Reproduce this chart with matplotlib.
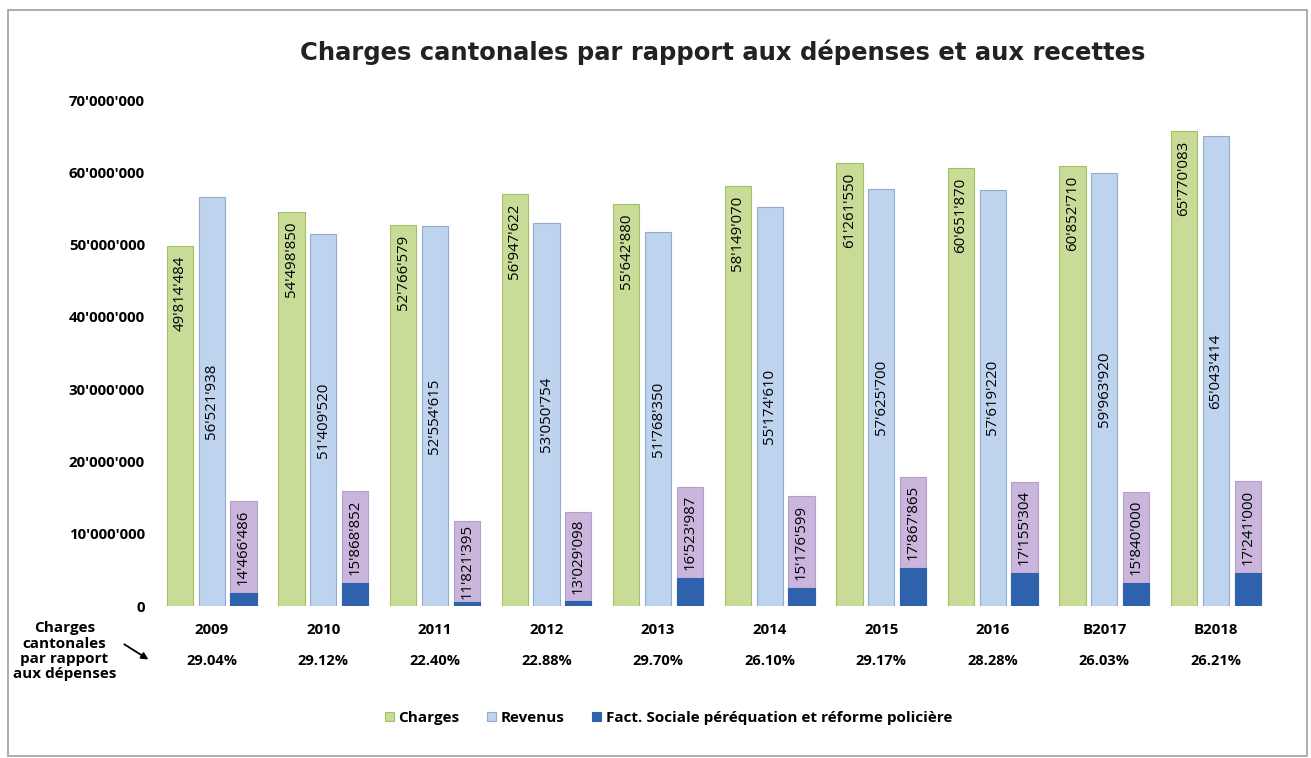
import matplotlib
matplotlib.use("Agg")
from matplotlib import pyplot as plt
from matplotlib.patches import Rectangle
from matplotlib.ticker import FuncFormatter
import numpy as np

years = ["2009", "2010", "2011", "2012", "2013", "2014", "2015", "2016", "B2017", "B2018"]
charges = [49814484, 54498850, 52766579, 56947622, 55642880, 58149070, 61261550, 60651870, 60852710, 65770083]
revenus = [56521938, 51409520, 52554615, 53050754, 51768350, 55174610, 57625700, 57619220, 59963920, 65043414]
totals_fact = [14466486, 15868852, 11821395, 13029098, 16523987, 15176599, 17867865, 17155304, 15840000, 17241000]
# dark blue part at the foot of the third bar (approx.)
fact_sociale = [1800000, 3200000, 600000, 700000, 3900000, 2500000, 5200000, 4500000, 3200000, 4500000]
pct_depenses = ["29.04%", "29.12%", "22.40%", "22.88%", "29.70%", "26.10%", "29.17%", "28.28%", "26.03%", "26.21%"]


def fmt_ch(v):
    return "{:,}".format(int(v)).replace(",", "'")


plt.rcParams['font.family'] = ['Open Sans', 'DejaVu Sans']

fig = plt.figure(figsize=(13.11, 7.58), dpi=100)
ax = fig.add_axes([0.119, 0.2005, 0.851, 0.6675])

x = np.arange(len(years))
w = 0.235
off = 0.285

ax.bar(x - off, charges, w, color="#c8dc98", edgecolor="#a3bf66", linewidth=0.8, label="Charges")
ax.bar(x, revenus, w, color="#bdd3ee", edgecolor="#92abcf", linewidth=0.8, label="Revenus")
ax.bar(x + off, totals_fact, w, color="#cab6dc", edgecolor="#b3a0c8", linewidth=0.8)
ax.bar(x + off, fact_sociale, w, color="#2f62ad", edgecolor="#2f62ad", linewidth=0.8,
       label="Fact. Sociale péréquation et réforme policière")

lab_size = 10.8
for i in range(len(years)):
    ax.annotate(fmt_ch(charges[i]), (x[i] - off, charges[i]), xytext=(0, -7),
                textcoords="offset points", rotation=90, ha="center", va="top", fontsize=lab_size)
    ax.text(x[i], revenus[i] / 2, fmt_ch(revenus[i]), rotation=90, ha="center", va="center",
            fontsize=lab_size)
    ax.text(x[i] + off, (totals_fact[i] + fact_sociale[i]) / 2, fmt_ch(totals_fact[i]),
            rotation=90, ha="center", va="center", fontsize=lab_size)

ax.set_ylim(0, 70000000)
ax.set_xlim(-0.5, len(years) - 0.5)
ax.set_yticks(np.arange(0, 70000001, 10000000))
ax.yaxis.set_major_formatter(FuncFormatter(lambda v, p: fmt_ch(v)))
ax.set_xticks(x)
ax.set_xticklabels(years, fontweight="bold", fontsize=10.8)
for t in ax.get_yticklabels():
    t.set_fontweight("bold")
    t.set_fontsize(10.8)
ax.tick_params(axis="y", length=0, pad=8)
ax.tick_params(axis="x", length=0, pad=12)
for s in ax.spines.values():
    s.set_visible(False)

trans = ax.get_xaxis_transform()
for i in range(len(years)):
    ax.text(x[i], -0.108, pct_depenses[i], transform=trans, ha="center", va="center",
            fontsize=10.5, fontweight="bold")

fig.text(0.049, 0.141, "Charges\ncantonales\npar rapport\naux dépenses", ha="center", va="center",
         fontsize=11, fontweight="bold", linespacing=1.1)
ax.annotate("", xy=(0.115, 0.128), xytext=(0.093, 0.152), xycoords="figure fraction",
            arrowprops=dict(arrowstyle="-|>", color="black", lw=1.3))

fig.text(0.551, 0.931, "Charges cantonales par rapport aux dépenses et aux recettes",
         ha="center", va="center", fontsize=17.5, fontweight="bold", color="#222222",
         family="DejaVu Sans")

leg = fig.legend(loc="center", bbox_to_anchor=(0.51, 0.053), ncol=3, frameon=False,
                 handlelength=0.6, handleheight=0.6, columnspacing=1.8, handletextpad=0.3,
                 prop={"weight": "bold", "size": 11})

fig.patches.append(Rectangle((0.006, 0.002), 0.991, 0.985, transform=fig.transFigure,
                             fill=False, edgecolor="#a0a0a0", linewidth=1.2))

fig.savefig("out.png", dpi=100, facecolor="white")
